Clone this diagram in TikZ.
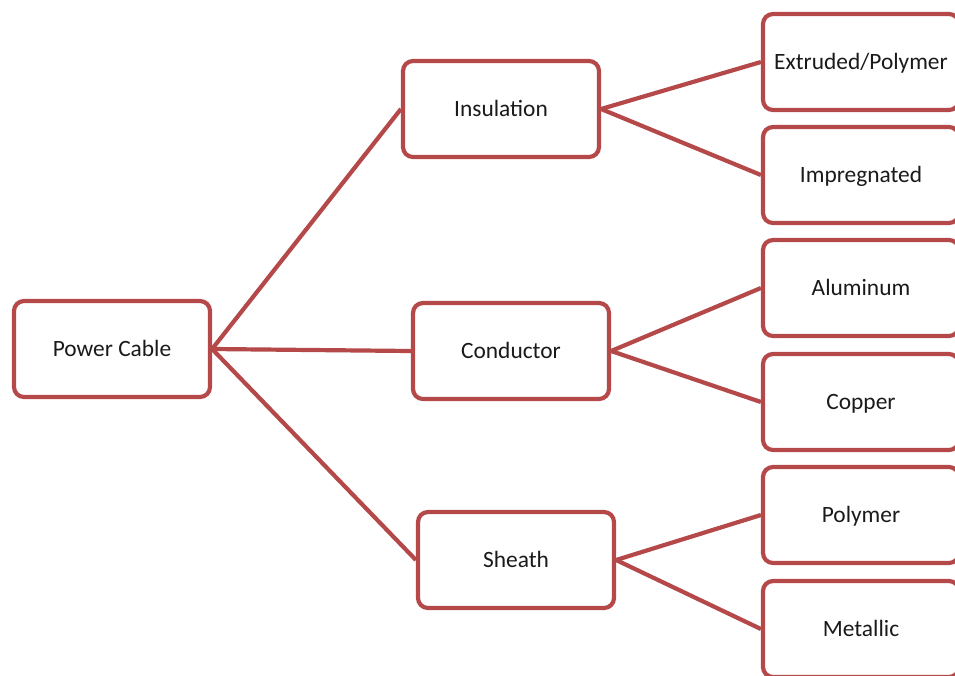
\documentclass[tikz,border=0pt]{standalone}
\usepackage{fontspec}
\setmainfont{Carlito}
\definecolor{boxred}{HTML}{B5494A}
\definecolor{txt}{HTML}{1A1A1A}
\begin{document}
\begin{tikzpicture}[x=1pt,y=-1pt,
  box/.style={draw=boxred, line width=4.2pt, rounded corners=10pt, fill=white,
    minimum width=196pt, minimum height=96pt, inner sep=0pt,
    text height=15pt, text depth=0pt,
    text=txt, font=\fontsize{23.4}{28}\selectfont},
  link/.style={draw=boxred, line width=4.2pt}]
\clip (0,0) rectangle (955,675);
\fill[white] (0,0) rectangle (955,675);
\node[box] (pc)  at (112,349) {Power Cable};
\node[box] (ins) at (501,109) {Insulation};
\node[box] (con) at (511,351) {Conductor};
\node[box] (sh)  at (516,560) {Sheath};
\node[box] (ext) at (861,62)  {Extruded/Polymer};
\node[box] (imp) at (861,175) {Impregnated};
\node[box] (alu) at (861,288) {Aluminum};
\node[box] (cop) at (861,402) {Copper};
\node[box] (pol) at (861,515) {Polymer};
\node[box] (met) at (861,629) {Metallic};
\draw[link] (pc.east) -- (ins.west);
\draw[link] (pc.east) -- (con.west);
\draw[link] (pc.east) -- (sh.west);
\draw[link] (ins.east) -- (ext.west);
\draw[link] (ins.east) -- (imp.west);
\draw[link] (con.east) -- (alu.west);
\draw[link] (con.east) -- (cop.west);
\draw[link] (sh.east) -- (pol.west);
\draw[link] (sh.east) -- (met.west);
\end{tikzpicture}
\end{document}
